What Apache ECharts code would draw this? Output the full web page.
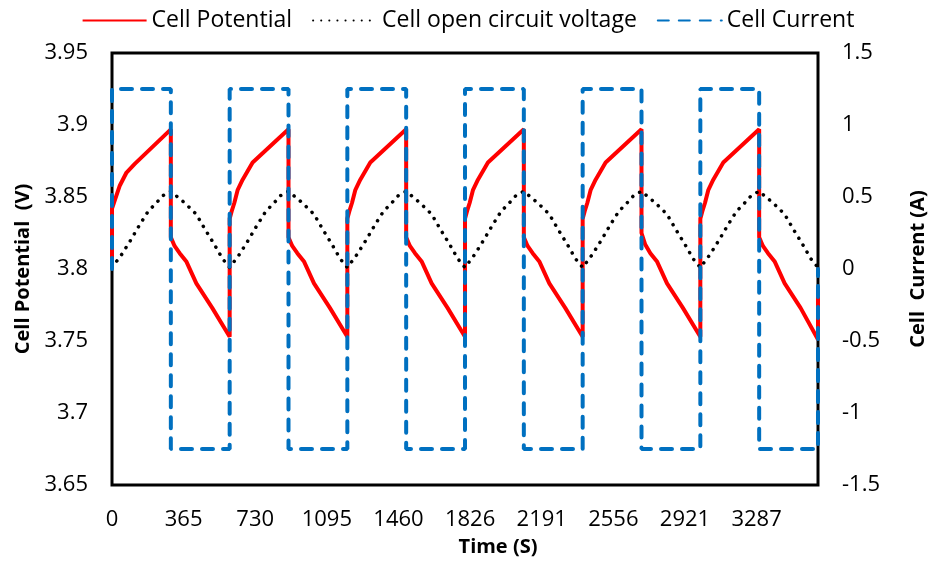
<!DOCTYPE html>
<html>
<head>
<meta charset="utf-8">
<script src="https://cdn.jsdelivr.net/npm/echarts@6/dist/echarts.min.js"></script>
<style>
  html, body { margin: 0; padding: 0; background: #fff; }
  #chart { width: 936px; height: 562px; }
</style>
</head>
<body>
<div id="chart"></div>
<script>
// x axis: time in seconds, labels every 365.2 s
const timeMax = 3600;
const xTickStep = 365.2;
const xTickLabels = ['0', '365', '730', '1095', '1460', '1826', '2191', '2556', '2921', '3287'];
const yLeftTicks = [3.65, 3.7, 3.75, 3.8, 3.85, 3.9, 3.95];
const yRightTicks = [-1.5, -1, -0.5, 0, 0.5, 1, 1.5];

// [time (s), potential (V)]
const cellPotential = [
  [0, 3.801], [0, 3.842], [15, 3.848], [40, 3.858], [74, 3.867], [116, 3.873], [300, 3.897],
  [300, 3.822], [319, 3.816], [345, 3.811], [380, 3.805], [430, 3.790], [511, 3.773], [600, 3.753],
  [600, 3.835], [610, 3.840], [624, 3.846], [641, 3.855], [666, 3.862], [717, 3.874], [900, 3.897],
  [900, 3.822], [919, 3.816], [945, 3.811], [980, 3.805], [1030, 3.790], [1111, 3.773], [1200, 3.753],
  [1200, 3.835], [1210, 3.840], [1224, 3.846], [1241, 3.855], [1266, 3.862], [1317, 3.874], [1500, 3.897],
  [1500, 3.822], [1519, 3.816], [1545, 3.811], [1580, 3.805], [1630, 3.790], [1711, 3.773], [1800, 3.753],
  [1800, 3.835], [1810, 3.840], [1824, 3.846], [1841, 3.855], [1866, 3.862], [1917, 3.874], [2100, 3.897],
  [2100, 3.822], [2119, 3.816], [2145, 3.811], [2180, 3.805], [2230, 3.790], [2311, 3.773], [2400, 3.753],
  [2400, 3.835], [2410, 3.840], [2424, 3.846], [2441, 3.855], [2466, 3.862], [2517, 3.874], [2700, 3.897],
  [2700, 3.825], [2719, 3.817], [2745, 3.811], [2780, 3.805], [2830, 3.790], [2911, 3.773], [3000, 3.753],
  [3000, 3.835], [3010, 3.840], [3024, 3.846], [3041, 3.855], [3066, 3.862], [3117, 3.874], [3300, 3.897],
  [3300, 3.822], [3319, 3.816], [3345, 3.811], [3380, 3.805], [3430, 3.790], [3511, 3.773], [3600, 3.751],
  [3600, 3.785]
];

// [time (s), open circuit voltage (V)]
const openCircuitVoltage = [
  [0, 3.801], [49, 3.810], [95, 3.820], [138, 3.830], [184, 3.840], [227, 3.846], [260, 3.851], [300, 3.854],
  [370, 3.846], [430, 3.838], [477, 3.827], [522, 3.817], [564, 3.807], [600, 3.801],
  [649, 3.810], [695, 3.820], [738, 3.830], [784, 3.840], [827, 3.846], [860, 3.851], [900, 3.854],
  [970, 3.846], [1030, 3.838], [1077, 3.827], [1122, 3.817], [1164, 3.807], [1200, 3.801],
  [1249, 3.810], [1295, 3.820], [1338, 3.830], [1384, 3.840], [1427, 3.846], [1460, 3.851], [1500, 3.854],
  [1570, 3.846], [1630, 3.838], [1677, 3.827], [1722, 3.817], [1764, 3.807], [1800, 3.801],
  [1849, 3.810], [1895, 3.820], [1938, 3.830], [1984, 3.840], [2027, 3.846], [2060, 3.851], [2100, 3.854],
  [2170, 3.846], [2230, 3.838], [2277, 3.827], [2322, 3.817], [2364, 3.807], [2400, 3.801],
  [2449, 3.810], [2495, 3.820], [2538, 3.830], [2584, 3.840], [2627, 3.846], [2660, 3.851], [2700, 3.854],
  [2770, 3.846], [2830, 3.838], [2877, 3.827], [2922, 3.817], [2964, 3.807], [3000, 3.801],
  [3049, 3.810], [3095, 3.820], [3138, 3.830], [3184, 3.840], [3227, 3.846], [3260, 3.851], [3300, 3.854],
  [3370, 3.846], [3430, 3.838], [3477, 3.827], [3522, 3.817], [3564, 3.807], [3600, 3.801]
];

// [time (s), current (A)]
const cellCurrent = [
  [0, 0], [0, 1.25], [300, 1.25], [300, -1.25], [600, -1.25],
  [600, 1.25], [900, 1.25], [900, -1.25], [1200, -1.25],
  [1200, 1.25], [1500, 1.25], [1500, -1.25], [1800, -1.25],
  [1800, 1.25], [2100, 1.25], [2100, -1.25], [2400, -1.25],
  [2400, 1.25], [2700, 1.25], [2700, -1.25], [3000, -1.25],
  [3000, 1.25], [3300, 1.25], [3300, -1.25], [3600, -1.25],
  [3600, 0]
];

const font = 'Open Sans';
const chart = echarts.init(document.getElementById('chart'));
chart.setOption({
  animation: false,
  textStyle: { fontFamily: font, color: '#000' },
  legend: {
    top: 4,
    left: 'center',
    itemWidth: 64,
    itemHeight: 14,
    itemGap: 20,
    itemStyle: { opacity: 0 },
    textStyle: { fontFamily: font, fontSize: 23, color: '#000' },
    data: ['Cell Potential', 'Cell open circuit voltage', 'Cell Current'],
  },
  grid: {
    left: 112,
    right: 114,
    top: 53,
    bottom: 75,
    show: true,
    borderColor: '#000',
    borderWidth: 3,
    backgroundColor: 'transparent',
  },
  xAxis: {
    type: 'value',
    min: 0,
    max: timeMax,
    interval: xTickStep,
    name: 'Time (S)',
    nameLocation: 'middle',
    nameGap: 52,
    nameTextStyle: { fontFamily: font, fontSize: 20, fontWeight: 'bold', color: '#000', padding: [0, 0, 0, 66] },
    axisLine: { show: false },
    axisTick: { show: false },
    splitLine: { show: false },
    axisLabel: {
      margin: 24,
      fontSize: 22,
      color: '#000',
      showMaxLabel: false,
      formatter: (v) => xTickLabels[Math.round(v / xTickStep)] || '',
    },
  },
  yAxis: [
    {
      type: 'value',
      position: 'left',
      min: yLeftTicks[0],
      max: yLeftTicks[yLeftTicks.length - 1],
      interval: 0.05,
      name: 'Cell Potential  (V)',
      nameLocation: 'middle',
      nameGap: 72,
      nameTextStyle: { fontFamily: font, fontSize: 20, fontWeight: 'bold', color: '#000' },
      axisLine: { show: false },
      axisTick: { show: false },
      splitLine: { show: false },
      axisLabel: {
        margin: 24,
        fontSize: 22,
        color: '#000',
        formatter: (v) => String(parseFloat(v.toFixed(2))),
      },
    },
    {
      type: 'value',
      position: 'right',
      min: yRightTicks[0],
      max: yRightTicks[yRightTicks.length - 1],
      interval: 0.5,
      name: 'Cell  Current (A)',
      nameLocation: 'middle',
      nameGap: 90,
      nameTextStyle: { fontFamily: font, fontSize: 20, fontWeight: 'bold', color: '#000' },
      axisLine: { show: false },
      axisTick: { show: false },
      splitLine: { show: false },
      axisLabel: {
        margin: 24,
        fontSize: 22,
        color: '#000',
        formatter: (v) => String(parseFloat(v.toFixed(2))),
      },
    },
  ],
  series: [
    {
      name: 'Cell Potential',
      type: 'line',
      yAxisIndex: 0,
      data: cellPotential,
      symbol: 'none',
      clip: false,
      color: '#ff0000',
      lineStyle: { color: '#ff0000', width: 4 },
    },
    {
      name: 'Cell open circuit voltage',
      type: 'line',
      yAxisIndex: 0,
      data: openCircuitVoltage,
      symbol: 'none',
      clip: false,
      color: '#000000',
      lineStyle: { color: '#000000', width: 3.5, type: [0.1, 8], cap: 'round' },
    },
    {
      name: 'Cell Current',
      type: 'line',
      yAxisIndex: 1,
      data: cellCurrent,
      symbol: 'none',
      clip: false,
      color: '#0070c0',
      lineStyle: { color: '#0070c0', width: 4, type: [11, 10], cap: 'round' },
    },
  ],
});
</script>
</body>
</html>
